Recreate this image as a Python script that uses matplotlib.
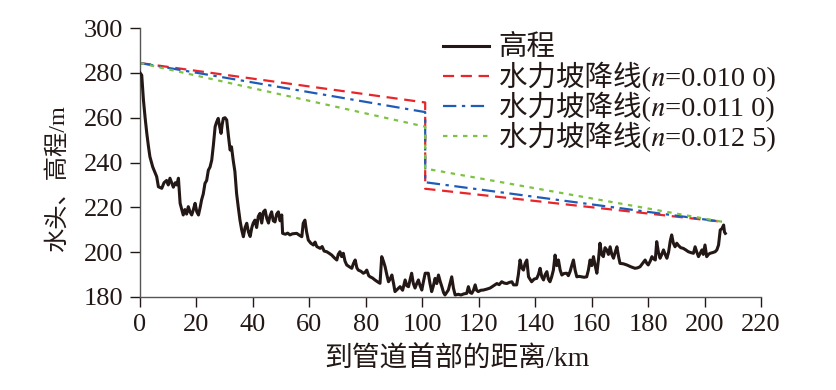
import matplotlib.pyplot as plt

plt.rcParams['font.family'] = ['Liberation Serif', 'STIXGeneral', 'Noto Sans CJK SC']

# elevation profile
dist_km = [0, 0.6, 1.2, 1.8, 2.4, 3.0, 3.5, 4.5, 5.9, 6.5, 7.7, 8.5, 9.4, 10.0, 10.6, 11.2, 11.8,
           12.5, 13.0, 13.6, 14.2, 14.8, 15.3, 15.9, 16.5, 17.1, 17.7, 18.3, 18.9, 19.5, 20.1,
           20.7, 21.3, 21.8, 22.4, 23.0, 23.6, 24.2, 24.8, 25.4, 26.0, 26.6, 27.1, 27.7, 28.2,
           28.7, 29.1, 29.5, 30.1, 30.7, 31.3, 31.9, 32.4, 33.0, 33.6, 34.2, 34.8, 35.4, 36.0,
           36.6, 37.2, 37.8, 38.4, 39.0, 39.6, 40.1, 40.7, 41.3, 41.9, 42.5, 43.1, 43.7, 44.3,
           44.9, 45.5, 46.0, 46.6, 47.2, 47.8, 48.4, 49.0, 49.6, 50.2, 50.5, 51.5, 52.3, 53.1,
           54.0, 55.5, 56.5, 57.3, 57.8, 58.4, 59.0, 59.6, 60.5, 61.4, 62.0, 62.6, 63.8, 64.5,
           65.2, 66.1, 67.0, 67.9, 68.8, 69.7, 70.2, 70.8, 71.4, 72.0, 72.6, 73.2, 74.1, 75.0,
           75.6, 76.2, 76.8, 77.3, 78.2, 79.1, 79.7, 80.3, 81.0, 81.5, 82.3, 83.2, 84.1, 85.0,
           85.6, 86.2, 86.8, 87.4, 88.0, 88.6, 89.2, 89.8, 90.3, 91.2, 92.1, 93.0, 93.9, 94.5,
           95.1, 95.7, 96.2, 96.8, 97.4, 98.0, 98.6, 99.2, 99.8, 100.4, 101.0, 102.1, 102.7,
           103.3, 103.9, 104.5, 105.1, 105.7, 106.3, 106.9, 107.5, 108.0, 108.6, 109.2, 109.8,
           110.4, 111.0, 111.6, 112.7, 113.7, 114.7, 115.7, 116.3, 116.9, 117.5, 118.1, 118.7,
           119.2, 119.8, 120.7, 121.6, 122.8, 124.0, 125.2, 126.4, 127.2, 128.1, 129.0, 129.9,
           130.8, 131.7, 132.3, 133.4, 134.0, 134.6, 135.2, 135.8, 136.4, 137.0, 137.6, 138.7,
           139.6, 140.5, 141.1, 141.7, 142.3, 142.9, 143.5, 144.1, 144.6, 145.2, 145.8, 146.4,
           147.0, 147.6, 148.2, 148.8, 149.4, 150.2, 151.1, 151.7, 152.3, 152.9, 153.5, 154.1,
           154.7, 155.5, 156.4, 157.3, 158.2, 158.8, 159.4, 160.0, 160.6, 161.2, 161.8, 162.4,
           162.9, 163.5, 164.1, 164.7, 165.3, 165.9, 166.5, 167.1, 167.7, 168.3, 168.9, 169.5,
           170.0, 171.2, 172.4, 173.8, 175.3, 176.2, 177.1, 178.0, 178.9, 179.5, 180.0, 180.7,
           181.3, 181.9, 182.5, 183.0, 183.6, 184.2, 184.8, 185.4, 186.0, 186.6, 187.2, 187.8,
           188.3, 188.9, 189.5, 190.1, 190.7, 191.5, 192.4, 193.3, 194.2, 195.1, 196.0, 196.6,
           197.2, 197.8, 198.4, 199.0, 199.5, 200.1, 200.7, 201.3, 201.9, 202.8, 203.7, 204.3,
           204.9, 205.5, 206.1, 206.7, 207.0, 207.3]
elev_m = [280, 279, 268, 260, 253, 247, 242.6, 238, 233.7, 229.2, 228.5, 231, 232, 230, 233, 231, 229,
          231, 230, 233, 221.8, 219, 216.6, 219, 217, 220.3, 218, 216.6, 219, 221.8, 218,
          216.6, 220, 223.3, 226, 230.7, 232, 236.6, 238, 241.1, 248, 256, 258, 259.7, 256,
          253, 257, 259.7, 260, 259, 252, 245.6, 247, 241, 236, 226.2, 220, 214.3, 210,
          206.9, 211, 212.9, 209, 207, 211, 213, 214.3, 211, 216, 217.3, 213, 218, 218.8,
          215, 213, 216, 218, 214, 213.5, 217, 218, 214, 216.6, 208.4, 208, 208.5, 207.7,
          208.2, 208.4, 207.5, 206.9, 212.9, 214.3, 209, 205.4, 204, 203.2, 204.5, 202.5, 201.7, 202.5,
          200.5, 200.2, 199.5, 198.7, 197.5, 196.5, 199, 200.2, 198, 199.5, 196, 194.3, 193.5, 192.8,
          195, 196.5, 193, 192, 191.5, 190.6, 191, 192, 189.5, 189, 188.5, 187.6, 186.8, 186.1,
          198, 196, 193.5, 190, 186.8, 188, 189.8, 186, 182.4, 183.5, 184.6, 183, 187.6, 185,
          184.6, 188, 190.6, 186, 184, 186, 187.6, 185, 183.1, 187, 190.6, 190.6, 186,
          182.4, 185, 188.3, 186, 189.8, 187, 184.6, 182, 180.9, 182, 183.1, 186,
          189, 184, 180.9, 181.2, 180.9, 181.4, 181.6, 184.6, 182, 181.6, 183, 185.4,
          183, 182.4, 183, 183.1, 183.5, 184, 185, 186, 185.5, 186.8, 186.2, 186,
          186.5, 186.8, 185.4, 185.4, 190, 196.5, 193, 192, 195, 196.5, 189, 186.8,
          188, 188.3, 190, 192.8, 189, 187.6, 190, 191.3, 188, 186.8, 189, 192,
          198.7, 194, 196.5, 192, 189.8, 190.5, 190.6, 189.5, 191.3, 194, 196.5, 192,
          189, 189.2, 189, 188.8, 189, 192, 196.5, 194, 198, 194, 190.6, 197,
          204, 199, 198, 202, 201, 199, 202.4, 199, 197.3, 200, 202.4, 198,
          195, 194.8, 194.3, 193.5, 192.8, 193, 193.5, 195, 196.5, 195, 194.3, 196,
          198, 197, 196.5, 204.7, 200, 197.3, 199, 201, 199, 197.3, 200, 205,
          207.7, 204, 202.4, 204, 203, 202, 201.7, 201, 200.2, 199.8, 199.5, 202.4,
          200, 198, 199.5, 201, 199, 203.2, 198, 199, 199.5, 199.8, 200.2, 201,
          203.2, 209.9, 210.5, 212.1, 209, 208.4]

# hydraulic gradient lines
grad_x = [0, 101, 101, 206]
grad_n0100 = [284.4, 266.8, 228.3, 213.6]
grad_n0110 = [284.4, 262.5, 231.2, 213.6]
grad_n0125 = [284.4, 256.0, 237.3, 213.6]

x_ticks = list(range(0, 221, 20))
y_ticks = list(range(180, 301, 20))

fig = plt.figure(figsize=(8.36, 3.9), dpi=100)
ax = fig.add_axes([0.1675, 0.2385, 0.743, 0.6895])

ax.plot(dist_km, elev_m, color='#231815', lw=2.2, label='高程', zorder=3)
ax.plot(grad_x, grad_n0100, color='#e8262a', lw=1.6, dashes=(5, 3),
        label='水力坡降线(𝑛=0.010 0)')
ax.plot(grad_x, grad_n0110, color='#1f5cb8', lw=1.6, dashes=(6, 2.5, 1.5, 2.5),
        label='水力坡降线(𝑛=0.011 0)')
ax.plot(grad_x, grad_n0125, color='#7dc242', lw=1.6, dashes=(2, 2.5),
        label='水力坡降线(𝑛=0.012 5)')

ax.set_xlim(0, 220)
ax.set_ylim(180, 300)
ax.set_xticks(x_ticks)
ax.set_yticks(y_ticks)
ax.tick_params(direction='out', length=7, width=1, labelsize=19, colors='#231815')
ax.tick_params(axis='x', pad=5)
ax.tick_params(axis='y', pad=5)
for s in ['top', 'right']:
    ax.spines[s].set_visible(False)
for s in ['left', 'bottom']:
    ax.spines[s].set_color('#555555')
    ax.spines[s].set_linewidth(1)

ax.set_xlabel('到管道首部的距离/km', fontsize=20, color='#231815')
ax.xaxis.set_label_coords(0.51, -0.183)
ax.set_ylabel('水头、高程/m', fontsize=17.5, color='#231815')
ax.yaxis.set_label_coords(-0.115, 0.44)

leg = ax.legend(loc='upper left', bbox_to_anchor=(0.470, 1.015), frameon=False,
                fontsize=20.5, handlelength=1.62, handletextpad=0.32, labelspacing=0.0,
                borderaxespad=0)
for t in leg.get_texts():
    t.set_color('#231815')

fig.savefig('out.png', dpi=100)
